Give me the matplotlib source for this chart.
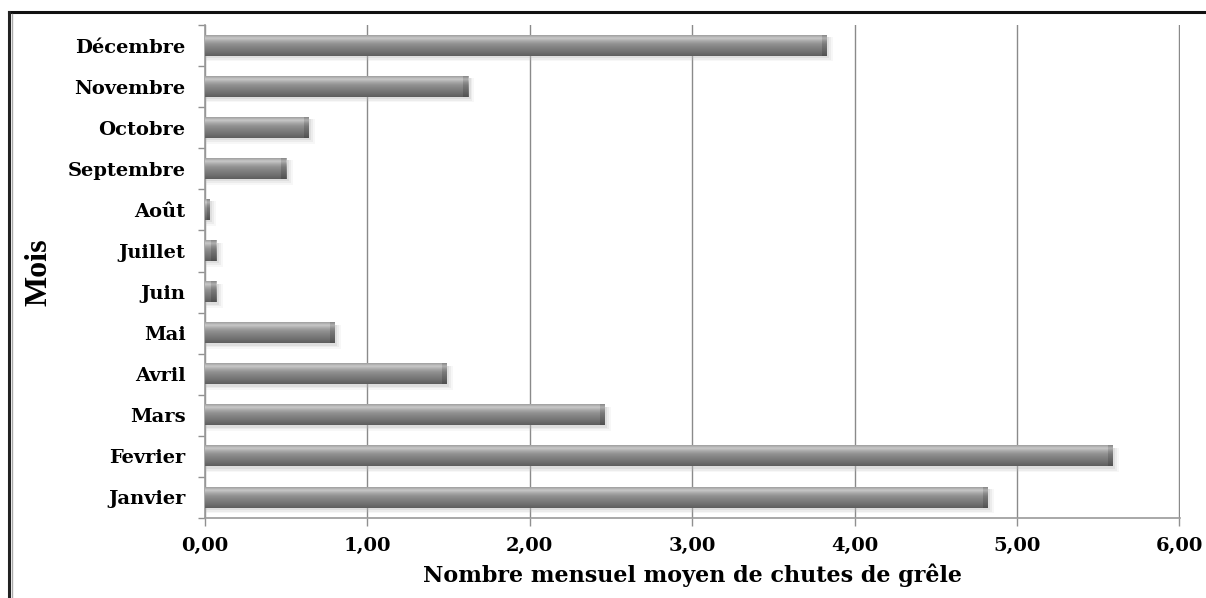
import numpy as np
import matplotlib
matplotlib.use("Agg")
import matplotlib.pyplot as plt
from matplotlib.colors import LinearSegmentedColormap
from matplotlib.lines import Line2D

months = ["Janvier", "Fevrier", "Mars", "Avril", "Mai", "Juin",
          "Juillet", "Août", "Septembre", "Octobre", "Novembre", "Décembre"]
values = [4.82, 5.59, 2.46, 1.49, 0.80, 0.07, 0.07, 0.03, 0.50, 0.64, 1.62, 3.83]
xticks = [0, 1, 2, 3, 4, 5, 6]
xticklabels = ["0,00", "1,00", "2,00", "3,00", "4,00", "5,00", "6,00"]
xlabel = "Nombre mensuel moyen de chutes de grêle"
ylabel = "Mois"

W, H, DPI = 1206, 598, 100
fig = plt.figure(figsize=(W / DPI, H / DPI), dpi=DPI)
fig.patch.set_facecolor("white")
ax = fig.add_axes([205 / W, 1 - 518 / H, (1180 - 205) / W, (518 - 25) / H])

tick_font = dict(family="DejaVu Serif", weight="bold", size=14)

# bar body gradient (bottom -> top)
body = LinearSegmentedColormap.from_list(
    "body", ["#5e5e5e", "#6c6c6c", "#787878", "#848484", "#909090",
             "#a8a8a8", "#c8c8c8", "#a0a0a0"])
cap = LinearSegmentedColormap.from_list(
    "cap", ["#505050", "#5c5c5c", "#666666", "#707070", "#7a7a7a",
            "#909090", "#b0b0b0", "#888888"])
grad = np.linspace(0, 1, 64).reshape(-1, 1)

h = 0.49
n = len(months)
y = np.arange(n)
for yi, v in zip(y, values):
    # soft shadow
    for k, a in enumerate([0.25, 0.18, 0.10]):
        ax.barh(yi - 0.05 - 0.02 * k, v + 0.015 + 0.012 * k, height=h + 0.02 + 0.04 * k,
                left=0.0, color="#b8b8b8", alpha=a, zorder=2, linewidth=0)
    ax.imshow(grad, cmap=body, aspect="auto", origin="lower",
              extent=(0, v, yi - h / 2, yi + h / 2), zorder=3,
              interpolation="bilinear")
    cw = min(0.03, v * 0.5)
    ax.imshow(grad, cmap=cap, aspect="auto", origin="lower",
              extent=(v - cw, v, yi - h / 2, yi + h / 2), zorder=4,
              interpolation="bilinear")

ax.set_xlim(0, 6.004)
ax.set_ylim(-0.5, n - 0.5)

ax.set_xticks(xticks)
ax.set_xticklabels(xticklabels, fontdict=tick_font)
ax.set_yticks(y)
ax.set_yticklabels(months, fontdict=tick_font)
ax.set_yticks(np.arange(-0.5, n, 1.0), minor=True)

ax.tick_params(axis="y", which="major", length=0, pad=14)
ax.tick_params(axis="y", which="minor", length=5, color="#909090", width=1)
ax.tick_params(axis="x", which="major", length=6, color="#909090", width=1, pad=8)

ax.grid(axis="x", color="#8a8a8a", linewidth=1.0, zorder=1)
ax.set_axisbelow(True)
for s in ["top", "right"]:
    ax.spines[s].set_visible(False)
for s in ["left", "bottom"]:
    ax.spines[s].set_color("#9a9a9a")
    ax.spines[s].set_linewidth(1.2)

ax.set_xlabel(xlabel, family="DejaVu Serif", weight="bold", size=16, labelpad=6)
fig.text(39 / W, 1 - 272 / H, ylabel, rotation=90, family="Liberation Serif",
         weight="bold", size=23, ha="center", va="center")

# outer frame (top and left edges)
fig.add_artist(Line2D([9 / W, 1], [1 - 12 / H, 1 - 12 / H], transform=fig.transFigure,
                      color="#111111", linewidth=2.2))
fig.add_artist(Line2D([9 / W, 9 / W], [0, 1 - 12 / H], transform=fig.transFigure,
                      color="#222222", linewidth=2.2))
fig.add_artist(Line2D([12 / W, 12 / W], [0, 1 - 14 / H], transform=fig.transFigure,
                      color="#aaaaaa", linewidth=1.0))

fig.savefig("out.png", dpi=DPI, facecolor="white")
